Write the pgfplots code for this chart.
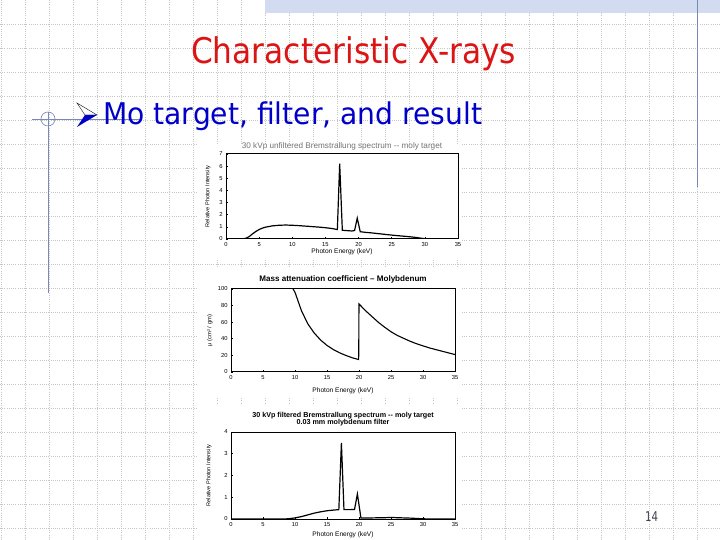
\documentclass[border=0pt]{standalone}
\usepackage{fontspec}
\setmainfont{Liberation Sans}
\newfontfamily\tahoma{DejaVu Sans}
\usepackage{pgfplots}
\pgfplotsset{compat=1.18}

\definecolor{titlered}{HTML}{DC1414}
\definecolor{bulletblue}{HTML}{0000C8}
\definecolor{lineblue}{HTML}{7888BC}
\definecolor{gridgray}{HTML}{C6C6C6}
\definecolor{barblue}{HTML}{D2DBF0}
\definecolor{pagegray}{HTML}{404050}

\newcommand\fs[1]{\fontsize{#1}{#1}\selectfont}

\pgfplotsset{slideplot/.style={
  scale only axis, xmin=0, xmax=35, xtick={0,5,...,35},
  tick pos=left, tick align=inside, major tick length=2bp,
  every tick/.style={black, line width=0.6bp},
  tick label style={font=\fs{5.8}},
  /pgf/number format/assume math mode=true,
  axis line style={line width=1bp},
  every axis x label/.style={at={(axis description cs:0.5,0)}, anchor=center, font=\fs{6.6}},
  every axis title/.style={at={(axis description cs:0.5,1)}, anchor=center},
}}

\begin{document}
\begin{tikzpicture}
\useasboundingbox (0,0) rectangle (720bp,540bp);
\fill[white] (0,0) rectangle (720bp,540bp);
\begin{scope}[x=1bp,y=-1bp,yshift=540bp]
  % background dotted grid
  \foreach \i in {0,...,30} {
    \draw[gridgray, line width=0.6bp, dash pattern=on 1bp off 1.2bp] (24*\i+1,0) -- (24*\i+1,540);
  }
  \foreach \j in {1,...,22} {
    \draw[gridgray, line width=0.6bp, dash pattern=on 1bp off 1.2bp] (0,24*\j) -- (720,24*\j);
  }
  % top hatched bar
  \fill[barblue] (265,0) rectangle (720,13);
  % decorative lines
  \draw[lineblue, line width=0.8bp] (697,0) -- (697,187);
  \draw[lineblue, line width=0.8bp] (48,112) -- (48,293);
  \draw[lineblue, line width=0.8bp] (32,119) -- (140,119);
  \draw[lineblue, line width=0.6bp] (48,119) circle (7);
  % white image areas
  \fill[white] (198,144) rectangle (462,258);
  \fill[white] (198,268) rectangle (462,397);
  \fill[white] (198,405) rectangle (462,540);
  % bullet arrow
  \fill[white] (77,103) -- (97,115) -- (85,115) -- cycle;
  \draw[black, line width=0.4bp] (77,103) -- (97,115) -- (85,115) -- cycle;
  \fill[bulletblue] (85,115) -- (97,115) -- (77,127) -- cycle;
  % texts
  \node[anchor=base west, inner sep=0, text=titlered] at (191,64)
    {\resizebox{325bp}{\height}{\fs{35.5}\tahoma Characteristic X-rays}};
  \node[anchor=base west, inner sep=0, text=bulletblue] at (103,125)
    {\resizebox{379bp}{\height}{\fs{30}\tahoma Mo target, filter, and result}};
  \node[anchor=base west, inner sep=0, text=pagegray] at (645,522)
    {\resizebox{13bp}{\height}{\fs{13.5}\tahoma 14}};
\end{scope}

% ---------- plot 1 ----------
\begin{axis}[slideplot,
  at={(226bp,301bp)}, anchor=south west, width=232bp, height=85bp,
  ymin=0, ymax=7, ytick={0,1,...,7},
  title={\textcolor{black!55}{30 kVp unfiltered Bremstrallung spectrum -{}- moly target}},
  title style={yshift=8bp, font=\fs{8.2}},
  xlabel={Photon Energy (keV)}, xlabel style={yshift=-13bp},
  ylabel={Relative Photon Intensity},
  every axis y label/.style={at={([xshift=-18bp]axis description cs:0,0.5)}, rotate=90, anchor=center, font=\fs{5.6}},
]
\addplot[black, line width=1.2bp] coordinates {
(2.4,0) (3.0,0.06) (3.5,0.2) (4.0,0.42) (4.5,0.62) (5.0,0.78) (5.5,0.9) (6.0,0.98)
(7.0,1.08) (8.0,1.13) (9.0,1.15) (10.0,1.13) (11.0,1.10) (12.0,1.06) (13.0,1.02)
(14.0,0.98) (15.0,0.93) (16.0,0.86) (16.8,0.78) (17.15,6.2) (17.55,0.72) (18.0,0.70)
(19.0,0.66) (19.4,0.7) (19.8,1.72) (20.25,0.6) (21,0.55) (22,0.5) (23,0.44) (24,0.38)
(25,0.32) (26,0.27) (27,0.22) (28,0.17) (29,0.1) (30,0.02) (30.5,0) (35,0)
};
\end{axis}

% ---------- plot 2 ----------
\begin{axis}[slideplot,
  at={(231bp,168bp)}, anchor=south west, width=224bp, height=83bp,
  ymin=0, ymax=100, ytick={0,20,...,100},
  title={\textbf{Mass attenuation coefficient -- Molybdenum}},
  title style={yshift=10bp, font=\fs{8.1}},
  xlabel={Photon Energy (keV)}, xlabel style={yshift=-19bp},
  ylabel={μ (cm² / gm)},
  every axis y label/.style={at={([xshift=-21bp]axis description cs:0,0.5)}, rotate=90, anchor=center, font=\fs{5.8}},
]
\addplot[black, line width=1.1bp] coordinates {
(9.7,100) (10,96) (11,74) (12,58) (13,47) (14,38.5) (15,32) (16,27) (17,23) (18,19.8)
(19,17) (19.95,15) (20,82) (21,74) (22,67) (23,60) (24,54) (25,48.5) (26,44) (27,40.5)
(28,37) (29,34) (30,31.5) (31,29) (32,27) (33,25) (34,23) (35,21)
};
\end{axis}

% ---------- plot 3 ----------
\begin{axis}[slideplot,
  at={(231bp,21bp)}, anchor=south west, width=224bp, height=87bp,
  ymin=0, ymax=4, ytick={0,1,...,4},
  title={30 kVp filtered Bremstrallung spectrum -{}- moly target\\0.03 mm molybdenum filter},
  title style={yshift=13bp, font=\fs{7.2}\bfseries, align=center},
  xlabel={Photon Energy (keV)}, xlabel style={yshift=-16bp},
  ylabel={Relative Photon Intensity},
  every axis y label/.style={at={([xshift=-22bp]axis description cs:0,0.5)}, rotate=90, anchor=center, font=\fs{5.6}},
]
\addplot[black, line width=1.2bp] coordinates {
(0,0) (8,0) (9,0.01) (10,0.05) (11,0.11) (12,0.19) (13,0.27) (14,0.33) (15,0.38)
(16,0.41) (16.85,0.43) (17.25,3.5) (17.65,0.43) (18.5,0.43) (19.3,0.44) (19.75,1.15)
(20.3,0.05) (22,0.05) (24,0.06) (25,0.07) (26,0.06) (28,0.04) (30,0.01) (31,0) (35,0)
};
\end{axis}
\end{tikzpicture}
\end{document}
